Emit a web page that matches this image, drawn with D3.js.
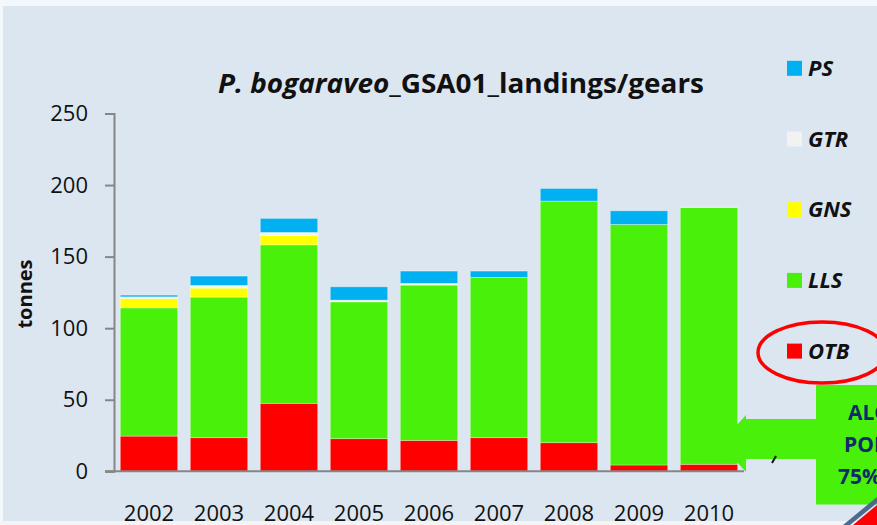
<!DOCTYPE html>
<html>
<head>
<meta charset="utf-8">
<script src="https://cdn.jsdelivr.net/npm/d3@7"></script>
<style>
  body { margin: 0; background: #f3f8fd; }
  svg { display: block; font-family: "Open Sans", sans-serif; }
</style>
</head>
<body>
<div id="chart"></div>
<script>
// landings by gear (tonnes)
const years = ["2002", "2003", "2004", "2005", "2006", "2007", "2008", "2009", "2010"];
const OTB = [24.6, 23.5, 47.5, 22.8, 21.6, 23.5, 20.0, 4.4, 4.9];
const LLS = [89.6, 98.2, 110.7, 95.6, 108.5, 112.0, 168.8, 168.1, 179.5];
const GNS = [6.6, 6.3, 6.6, 0, 0.4, 0, 0, 0, 0];
const GTR = [1.1, 1.9, 2.1, 1.2, 0.8, 0, 0, 0, 0.3];
const PS  = [1.2, 6.5, 9.8, 9.3, 8.6, 4.4, 8.8, 9.5, 0];
const yTicks = [0, 50, 100, 150, 200, 250];

const gears = ["OTB", "LLS", "GNS", "GTR", "PS"];
const colors = { OTB: "#ff0000", LLS: "#49f00a", GNS: "#ffff00", GTR: "#f2f2f2", PS: "#00b0f0" };

const width = 877, height = 525;
const table = years.map((y, i) => ({ year: y, OTB: OTB[i], LLS: LLS[i], GNS: GNS[i], GTR: GTR[i], PS: PS[i] }));

const svg = d3.select("#chart").append("svg")
    .attr("width", width)
    .attr("height", height);

// slide panel
svg.append("rect").attr("width", width).attr("height", height).attr("fill", "#f3f8fd");
svg.append("rect")
    .attr("x", 3).attr("y", 6)
    .attr("width", width - 3).attr("height", 515)
    .attr("fill", "#dce6f1");
// slide bottom edge (under the year labels)
svg.append("rect")
    .attr("x", 0).attr("y", 521)
    .attr("width", width).attr("height", 4)
    .attr("fill", "#f4f4f4");

const x = d3.scaleBand()
    .domain(years)
    .range([114, 744])
    .paddingInner(0.18)
    .paddingOuter(0.09);

const y = d3.scaleLinear()
    .domain([0, 250])
    .range([471.3, 113.5]);

const stack = d3.stack().keys(gears)(table);

svg.append("g")
    .selectAll("g")
    .data(stack)
    .join("g")
    .attr("fill", d => colors[d.key])
    .selectAll("rect")
    .data(d => d.filter(s => s[1] - s[0] > 0))
    .join("rect")
    .attr("x", d => x(d.data.year))
    .attr("width", x.bandwidth())
    .attr("y", d => y(d[1]))
    .attr("height", d => y(d[0]) - y(d[1]))
    .attr("stroke", "rgba(255,255,255,0.4)")
    .attr("stroke-width", 0.8);

// y axis
const yAxis = svg.append("g")
    .attr("transform", "translate(114,0)")
    .call(d3.axisLeft(y).tickValues(yTicks).tickSize(9).tickPadding(17));
yAxis.select(".domain").attr("stroke", "#868686").attr("stroke-width", 2);
yAxis.selectAll(".tick line").attr("stroke", "#868686").attr("stroke-width", 2);
yAxis.selectAll("text")
    .attr("font-size", 22)
    .attr("font-family", "Open Sans")
    .attr("fill", "#111");

// x axis
const xAxis = svg.append("g")
    .attr("transform", `translate(0,${y(0)})`)
    .call(d3.axisBottom(x).tickSize(0).tickPadding(34));
xAxis.select(".domain")
    .attr("d", `M105,0H744`)
    .attr("stroke", "#868686").attr("stroke-width", 2);
xAxis.selectAll("text")
    .attr("font-size", 22)
    .attr("font-family", "Open Sans")
    .attr("fill", "#111");

// y label
svg.append("text")
    .attr("transform", "translate(32,294) rotate(-90)")
    .attr("text-anchor", "middle")
    .attr("font-size", 20)
    .attr("font-weight", "bold")
    .attr("fill", "#111")
    .text("tonnes");

// title
const title = svg.append("text")
    .attr("x", 461).attr("y", 93)
    .attr("text-anchor", "middle")
    .attr("font-size", 26)
    .attr("font-weight", "bold")
    .attr("fill", "#111")
    .attr("textLength", 486)
    .attr("lengthAdjust", "spacingAndGlyphs");
title.append("tspan").attr("font-style", "italic").text("P. bogaraveo");
title.append("tspan").text("_GSA01_landings/gears");

// legend, top to bottom
const legendKeys = ["PS", "GTR", "GNS", "LLS", "OTB"];
const legend = svg.append("g")
    .selectAll("g")
    .data(legendKeys)
    .join("g")
    .attr("transform", (d, i) => `translate(787,${68.3 + i * 70.7})`);
legend.append("rect")
    .attr("x", 0).attr("y", -7.5)
    .attr("width", 15).attr("height", 15)
    .attr("fill", d => colors[d]);
legend.append("text")
    .attr("x", 21).attr("y", 7.5)
    .attr("font-size", 22)
    .attr("font-weight", "bold")
    .attr("font-style", "italic")
    .attr("fill", "#111")
    .text(d => d);

// red circle around OTB
svg.append("ellipse")
    .attr("cx", 822).attr("cy", 352.5)
    .attr("rx", 64).attr("ry", 30.5)
    .attr("fill", "none")
    .attr("stroke", "#ff0000")
    .attr("stroke-width", 3.5);

// callout arrow pointing at the bars
svg.append("path")
    .attr("d", "M816,419H746V415L720,443.5L746,472V459H816Z")
    .attr("fill", "#49f00a");
svg.append("rect")
    .attr("x", 816).attr("y", 385)
    .attr("width", 80).attr("height", 119.5)
    .attr("fill", "#49f00a");
const callout = ["ALGECIRAS", "PORT", "75%"];
const cx0 = [848, 844, 838];
svg.append("g")
    .selectAll("text")
    .data(callout)
    .join("text")
    .attr("x", (d, i) => cx0[i])
    .attr("y", (d, i) => 420 + i * 32)
    .attr("font-size", 21)
    .attr("font-weight", "bold")
    .attr("fill", "#0f2b6b")
    .text(d => d);

svg.append("path")
    .attr("d", "M776,456L772,463")
    .attr("stroke", "#111").attr("stroke-width", 2);

// corner decoration
svg.append("path")
    .attr("d", "M843,525L877,497V503L850,525Z")
    .attr("fill", "#4a6a8f");
svg.append("path")
    .attr("d", "M853,525L877,505V525Z")
    .attr("fill", "#ff0000");
</script>
</body>
</html>
